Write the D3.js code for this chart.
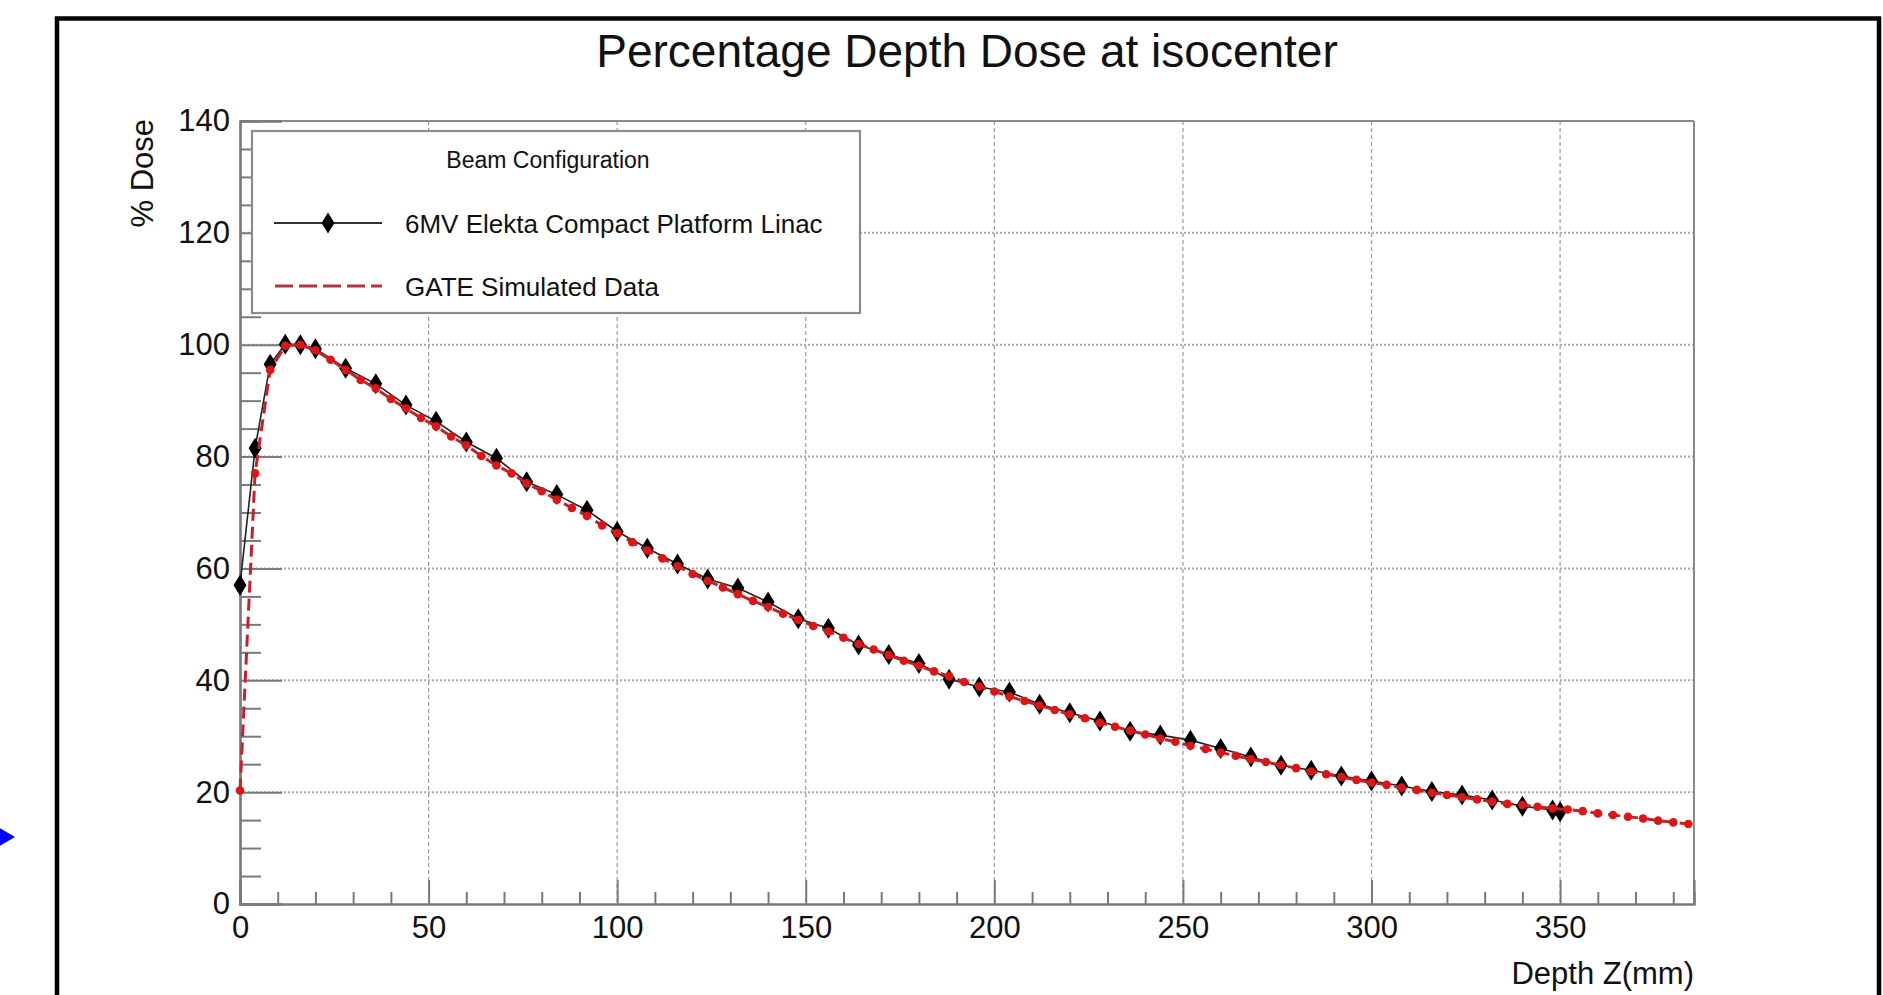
<!DOCTYPE html>
<html>
<head>
<meta charset="utf-8">
<script src="https://cdn.jsdelivr.net/npm/d3@7"></script>
<style>
  html, body { margin: 0; padding: 0; background: #fff; }
  svg { display: block; font-family: "Liberation Sans", Arial, Helvetica, sans-serif; }
</style>
</head>
<body>
<svg id="chart" width="1883" height="995"></svg>
<script>
// ---------------- data ----------------
const chartTitle = "Percentage Depth Dose at isocenter";
const xAxisTitle = "Depth Z(mm)";
const yAxisTitle = "% Dose";
const legendHeader = "Beam Configuration";
const seriesNames = ["6MV Elekta Compact Platform Linac", "GATE Simulated Data"];

const depthMeasured = [0, 4, 8, 12, 16, 20, 28, 36, 44, 52, 60, 68, 76, 84, 92, 100, 108, 116, 124, 132,
  140, 148, 156, 164, 172, 180, 188, 196, 204, 212, 220, 228, 236, 244, 252, 260, 268, 276, 284, 292,
  300, 308, 316, 324, 332, 340, 348, 350];
const doseMeasured = [57.0, 81.5, 96.5, 100.1, 100.0, 99.3, 95.8, 93.0, 89.2, 86.3, 82.6, 79.7, 75.5, 73.2, 70.4, 66.6, 63.6, 60.8, 58.1, 56.5,
  54.0, 51.0, 49.3, 46.3, 44.6, 43.0, 40.2, 38.8, 37.9, 35.7, 34.2, 32.7, 30.9, 30.2, 29.3, 27.8, 26.3, 24.8, 23.9, 22.9,
  22.0, 21.1, 20.1, 19.5, 18.6, 17.5, 16.8, 16.5];

const depthSim = [0, 4, 8, 12, 16, 20, 24, 28, 32, 36, 40, 44, 48, 52, 56, 60, 64, 68, 72, 76,
  80, 84, 88, 92, 96, 100, 104, 108, 112, 116, 120, 124, 128, 132, 136, 140, 144, 148, 152, 156,
  160, 164, 168, 172, 176, 180, 184, 188, 192, 196, 200, 204, 208, 212, 216, 220, 224, 228, 232, 236,
  240, 244, 248, 252, 256, 260, 264, 268, 272, 276, 280, 284, 288, 292, 296, 300, 304, 308, 312, 316,
  320, 324, 328, 332, 336, 340, 344, 348, 352, 356, 360, 364, 368, 372, 376, 380, 384];
const doseSim = [20.3, 77.0, 95.5, 99.8, 100.0, 99.0, 97.3, 95.5, 93.7, 92.2, 90.3, 88.6, 86.9, 85.4, 83.6, 82.0, 80.1, 78.4, 77.0, 75.2,
  73.8, 72.3, 70.8, 69.4, 67.7, 66.3, 64.7, 63.2, 61.8, 60.4, 59.0, 57.8, 56.6, 55.4, 54.2, 53.1, 51.9, 50.8, 49.7, 48.7,
  47.6, 46.5, 45.5, 44.5, 43.5, 42.6, 41.6, 40.7, 39.7, 38.9, 38.0, 37.1, 36.3, 35.5, 34.7, 33.9, 33.2, 32.4, 31.7, 31.0,
  30.3, 29.6, 29.0, 28.3, 27.7, 27.1, 26.5, 25.9, 25.4, 24.8, 24.3, 23.7, 23.2, 22.7, 22.2, 21.7, 21.3, 20.8, 20.4, 19.9,
  19.5, 19.1, 18.7, 18.3, 17.9, 17.7, 17.4, 17.1, 16.9, 16.6, 16.2, 15.9, 15.6, 15.3, 14.9, 14.6, 14.3];

const xTicks = [0, 50, 100, 150, 200, 250, 300, 350];
const xMinorTicks = [10, 20, 30, 40, 60, 70, 80, 90, 110, 120, 130, 140, 160, 170, 180, 190, 210, 220, 230, 240,
  260, 270, 280, 290, 310, 320, 330, 340, 360, 370, 380];
const yTicks = [0, 20, 40, 60, 80, 100, 120, 140];
const yMinorTicks = [5, 10, 15, 25, 30, 35, 45, 50, 55, 65, 70, 75, 85, 90, 95, 105, 110, 115, 125, 130, 135];
const xDomain = [0, 385.5];
const yDomain = [0, 140];

// ---------------- layout ----------------
const svg = d3.select("#chart");
const L = 240, R = 1694, T = 121, B = 904;
const x = d3.scaleLinear().domain(xDomain).range([L, R]);
const y = d3.scaleLinear().domain(yDomain).range([B, T]);

// outer black frame (cropped at bottom)
svg.append("rect").attr("x", 57).attr("y", 18.5).attr("width", 1822).attr("height", 1100)
  .attr("fill", "none").attr("stroke", "#000").attr("stroke-width", 4.5);

// blue arrow at left edge
svg.append("path").attr("d", "M-4,826 L15,837 L-4,848 Z").attr("fill", "#0000ff");

// title
svg.append("text").attr("x", 967).attr("y", 67).attr("text-anchor", "middle")
  .attr("font-size", 46).attr("fill", "#111").text(chartTitle);

// grid
const grid = svg.append("g");
grid.selectAll("line.vg").data(xTicks.filter(d => d > 0)).enter().append("line")
  .attr("x1", d => x(d)).attr("x2", d => x(d)).attr("y1", T).attr("y2", B)
  .attr("stroke", "#9a9a9a").attr("stroke-width", 1.2).attr("stroke-dasharray", "4,3");
grid.selectAll("line.hg").data(yTicks.filter(d => d > 0 && d < 140)).enter().append("line")
  .attr("x1", L).attr("x2", R).attr("y1", d => y(d)).attr("y2", d => y(d))
  .attr("stroke", "#a8a8a8").attr("stroke-width", 2).attr("stroke-dasharray", "2,2");

// frame top & right
svg.append("line").attr("x1", L).attr("x2", R).attr("y1", T).attr("y2", T).attr("stroke", "#8a8a8a").attr("stroke-width", 2);
svg.append("line").attr("x1", R).attr("x2", R).attr("y1", T).attr("y2", B).attr("stroke", "#8a8a8a").attr("stroke-width", 2);

const axisColor = "#7a7a7a";
function styleAxis(g) {
  g.select(".domain").attr("stroke", axisColor).attr("stroke-width", 2.2);
  g.selectAll(".tick line").attr("stroke", axisColor).attr("stroke-width", 2);
  g.selectAll(".tick text").attr("fill", "#111").attr("font-size", 31)
    .attr("font-family", '"Liberation Sans", Arial, sans-serif');
}

// x axis
const gxMinor = svg.append("g").attr("transform", `translate(0,${B})`)
  .call(d3.axisBottom(x).tickValues(xMinorTicks).tickSize(-12).tickFormat(""));
styleAxis(gxMinor);
const gx = svg.append("g").attr("transform", `translate(0,${B})`)
  .call(d3.axisBottom(x).tickValues(xTicks).tickSize(-24).tickPadding(12).tickFormat(d3.format("d")));
styleAxis(gx);

// y axis
const gyMinor = svg.append("g").attr("transform", `translate(${L},0)`)
  .call(d3.axisLeft(y).tickValues(yMinorTicks).tickSize(-21).tickFormat(""));
styleAxis(gyMinor);
const gy = svg.append("g").attr("transform", `translate(${L},0)`)
  .call(d3.axisLeft(y).tickValues(yTicks).tickSize(-42).tickPadding(10).tickFormat(d3.format("d")));
styleAxis(gy);

// axis titles
svg.append("text").attr("x", R).attr("y", 984).attr("text-anchor", "end")
  .attr("font-size", 31).attr("fill", "#111").text(xAxisTitle);
svg.append("text").attr("transform", "translate(153,119) rotate(-90)").attr("text-anchor", "end")
  .attr("font-size", 31).attr("fill", "#111").text(yAxisTitle);

// data
const measured = depthMeasured.map((d, i) => [d, doseMeasured[i]]);
const sim = depthSim.map((d, i) => [d, doseSim[i]]);
const line = d3.line().x(d => x(d[0])).y(d => y(d[1]));
const diamond = (cx, cy, w, h) => `M${cx},${cy - h} L${cx + w},${cy} L${cx},${cy + h} L${cx - w},${cy} Z`;

svg.append("path").datum(measured).attr("d", line).attr("fill", "none")
  .attr("stroke", "#222").attr("stroke-width", 1.6);
svg.append("g").selectAll("path").data(measured).enter().append("path")
  .attr("d", d => diamond(x(d[0]), y(d[1]), 6.5, 10.5)).attr("fill", "#000");

svg.append("path").datum(sim).attr("d", line).attr("fill", "none")
  .attr("stroke", "#c8202a").attr("stroke-width", 3).attr("stroke-dasharray", "12,6");
svg.append("g").selectAll("circle").data(sim).enter().append("circle")
  .attr("cx", d => x(d[0])).attr("cy", d => y(d[1])).attr("r", 4.3).attr("fill", "#dd1515");

// legend
const lg = svg.append("g");
lg.append("rect").attr("x", 252).attr("y", 131).attr("width", 608).attr("height", 182)
  .attr("fill", "#fff").attr("stroke", "#8c8c8c").attr("stroke-width", 2.2);
lg.append("text").attr("x", 548).attr("y", 168).attr("text-anchor", "middle")
  .attr("font-size", 23).attr("fill", "#111").text(legendHeader);
lg.append("line").attr("x1", 274).attr("x2", 382).attr("y1", 223).attr("y2", 223)
  .attr("stroke", "#333").attr("stroke-width", 2);
lg.append("path").attr("d", diamond(328, 223, 6.5, 10.5)).attr("fill", "#000");
lg.append("text").attr("x", 405).attr("y", 233).attr("font-size", 26).attr("fill", "#111").text(seriesNames[0]);
lg.append("line").attr("x1", 275).attr("x2", 382).attr("y1", 286).attr("y2", 286)
  .attr("stroke", "#b03542").attr("stroke-width", 3.2).attr("stroke-dasharray", "18,6");
lg.append("text").attr("x", 405).attr("y", 296).attr("font-size", 26).attr("fill", "#111").text(seriesNames[1]);
</script>
</body>
</html>
